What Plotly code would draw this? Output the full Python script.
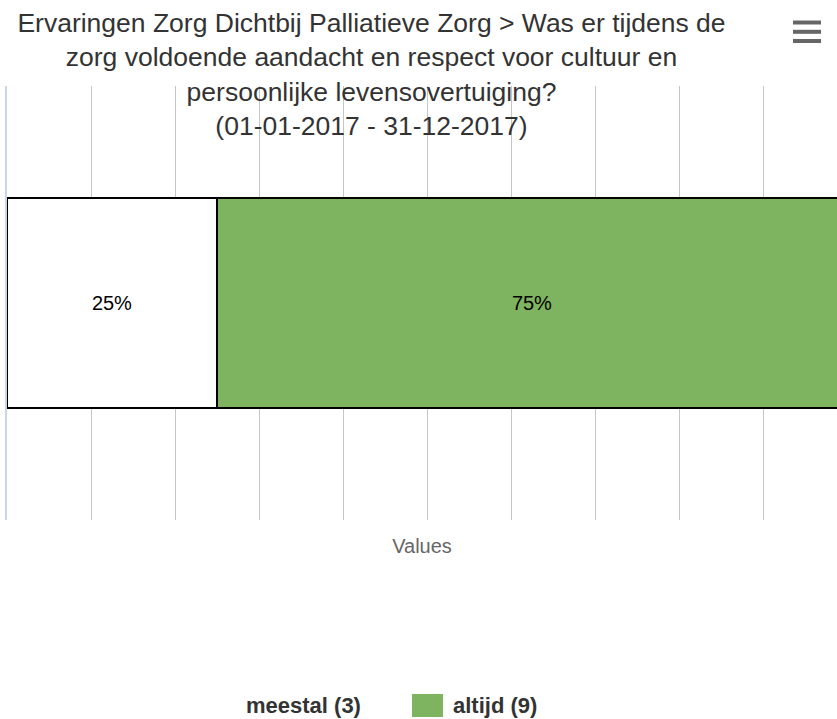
import plotly.graph_objects as go

# ---- data ----
series_names = ["meestal", "altijd"]
series_counts = [3, 9]
series_colors = ["#ffffff", "#7eb35f"]
category = [""]
title_lines = [
    "Ervaringen Zorg Dichtbij Palliatieve Zorg > Was er tijdens de",
    "zorg voldoende aandacht en respect voor cultuur en",
    "persoonlijke levensovertuiging?",
    "(01-01-2017 - 31-12-2017)",
]
axis_title = "Values"

total = sum(series_counts)
percents = [100.0 * c / total for c in series_counts]

W, H = 837, 719
L, R, T, B = 7, 0, 86, 199
FONT = "Liberation Sans, Arial, Helvetica, sans-serif"

fig = go.Figure()
for name, cnt, pct, col in zip(series_names, series_counts, percents, series_colors):
    fig.add_trace(go.Bar(
        y=category, x=[pct], orientation="h", name=f"{name} ({cnt})",
        marker=dict(color=col, line=dict(color="#000000", width=1.5)),
        text=[f"{pct:.0f}%"], textposition="inside", insidetextanchor="middle",
        textfont=dict(size=20, color="#000000", family=FONT),
        constraintext="none", cliponaxis=True,
        showlegend=False, hoverinfo="skip",
    ))
for name, cnt, col in zip(series_names, series_counts, series_colors):
    # legend-only entry
    fig.add_trace(go.Bar(
        y=[None], x=[None], orientation="h", name=f"{name} ({cnt})",
        marker=dict(color=col, line=dict(color=col, width=10)),
        showlegend=True, hoverinfo="skip",
    ))

plot_w = W - L - R
plot_h = H - T - B
visible_max = 100.0 * plot_w / 840.0

fig.update_layout(
    width=W, height=H,
    margin=dict(l=L, r=R, t=T, b=B, pad=0, autoexpand=False),
    paper_bgcolor="#ffffff", plot_bgcolor="#ffffff",
    barmode="stack", bargap=0.516,
    font=dict(family=FONT, color="#333333"),
    title=dict(
        text="<br>".join(title_lines),
        font=dict(size=26.5, color="#333333", family=FONT),
        xref="container", x=371.5 / W, xanchor="center",
        yref="container", y=1 - 32 / H, yanchor="top",
    ),
    xaxis=dict(
        range=[0, visible_max], dtick=10, tick0=0,
        showgrid=True, gridcolor="#c6c6c6", gridwidth=1,
        zeroline=False, showline=False, showticklabels=False, ticks="",
        title=dict(text=axis_title, font=dict(size=20, color="#666666", family=FONT), standoff=18),
        fixedrange=True,
    ),
    yaxis=dict(
        showgrid=False, zeroline=False, showticklabels=False, ticks="",
        showline=True, linecolor="#ccd6eb", linewidth=1.5,
        fixedrange=True,
    ),
    legend=dict(
        orientation="h", xref="container", yref="container", traceorder="normal",
        x=206 / W, xanchor="left", y=1 - 705 / H, yanchor="middle",
        font=dict(size=22, color="#333333", family=FONT, weight="bold"),
        itemwidth=30, entrywidth=162, entrywidthmode="pixels",
        bgcolor="rgba(0,0,0,0)",
    ),
)

def px_x(p):
    return (p - L) / plot_w
def px_y(p):
    return (H - B - p) / plot_h

# larger legend swatches (Highcharts-style rectangles) behind the legend symbols
swatch_left = [212, 412]
for xl, col in zip(swatch_left, series_colors):
    fig.add_shape(type="rect", xref="paper", yref="paper", layer="above",
                  x0=px_x(xl), x1=px_x(xl + 31), y0=px_y(694), y1=px_y(717),
                  fillcolor=col, line=dict(width=0))

# hamburger menu icon (export button)
for yc in [22.5, 31.8, 41.0]:
    fig.add_shape(type="line", xref="paper", yref="paper",
                  x0=px_x(793), x1=px_x(821), y0=px_y(yc), y1=px_y(yc),
                  line=dict(color="#666666", width=4))

fig.write_html("out.html", config={"displayModeBar": False},
               post_script="document.body.style.margin='0px';")
